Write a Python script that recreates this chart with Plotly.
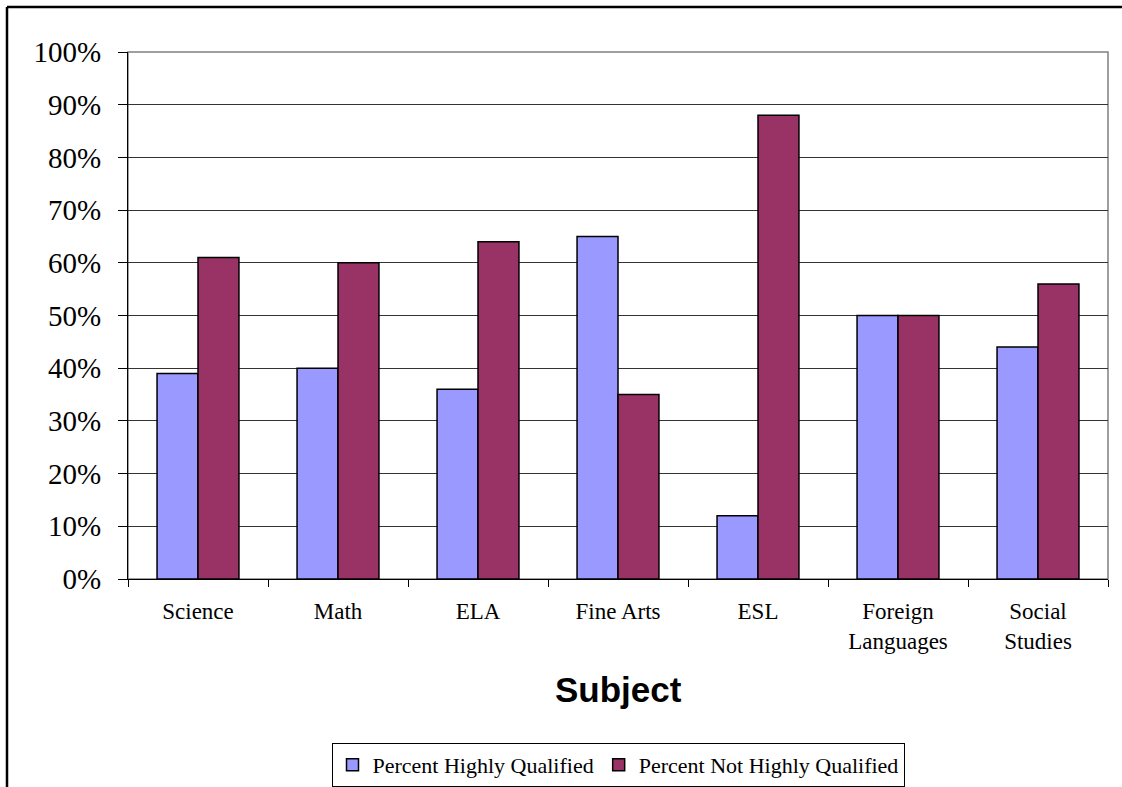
import plotly.graph_objects as go

categories = ["Science", "Math", "ELA", "Fine Arts", "ESL", "Foreign<br>Languages", "Social<br>Studies"]
highly_qualified = [0.39, 0.40, 0.36, 0.65, 0.12, 0.50, 0.44]
not_highly_qualified = [0.61, 0.60, 0.64, 0.35, 0.88, 0.50, 0.56]
series_names = ["Percent Highly Qualified", "Percent Not Highly Qualified"]
y_ticks = [i / 10 for i in range(11)]

W, H = 1122, 787
L, R, T, B = 128, 14, 52, 208
pw = W - L - R
ph = H - T - B

serif = "Liberation Serif"
sans = "Liberation Sans"

fig = go.Figure()
fig.add_trace(go.Bar(x=categories, y=highly_qualified, name=series_names[0],
                     marker=dict(color="#9999FF", line=dict(color="black", width=1.5))))
fig.add_trace(go.Bar(x=categories, y=not_highly_qualified, name=series_names[1],
                     marker=dict(color="#993366", line=dict(color="black", width=1.5))))

def px_x(p):
    return (p - L) / pw

def px_y(p):
    return (H - B - p) / ph

fig.update_layout(
    width=W, height=H,
    margin=dict(l=L, r=R, t=T, b=B, autoexpand=False),
    paper_bgcolor="white", plot_bgcolor="white",
    barmode="group", bargap=0.415, bargroupgap=0,
    showlegend=True,
    legend=dict(orientation="h", x=0.5, xanchor="center", y=px_y(743), yanchor="top",
                bordercolor="black", borderwidth=1, bgcolor="white",
                font=dict(family=serif, size=22, color="black"),
                itemwidth=30, tracegroupgap=0),
    xaxis=dict(type="category", tickson="boundaries", ticks="outside", ticklen=7,
               tickcolor="black", tickwidth=1, showline=True, linecolor="black", linewidth=1,
               showgrid=False, tickfont=dict(family=serif, size=23, color="black"),
               ticklabelstandoff=11),
    yaxis=dict(range=[0, 1], tickvals=y_ticks, tickformat=".0%", ticks="outside", ticklen=9,
               tickcolor="black", tickwidth=1, showline=True, linecolor="black", linewidth=1,
               showgrid=True, gridcolor="#333333", gridwidth=1, zeroline=False,
               tickfont=dict(family=serif, size=29, color="black"),
               ticklabelstandoff=11),
    shapes=[
        dict(type="rect", xref="paper", yref="paper", x0=0, x1=1, y0=0, y1=1,
             line=dict(color="#808080", width=1.5), layer="below"),
        dict(type="line", xref="paper", yref="paper", x0=px_x(7), x1=px_x(1122),
             y0=px_y(7), y1=px_y(7), line=dict(color="black", width=2.5)),
        dict(type="line", xref="paper", yref="paper", x0=px_x(7), x1=px_x(7),
             y0=px_y(7), y1=px_y(787), line=dict(color="black", width=2.5)),
    ],
    annotations=[
        dict(text="<b>Subject</b>", xref="paper", yref="paper", x=0.5, y=px_y(689),
             xanchor="center", yanchor="middle", showarrow=False,
             font=dict(family=sans, size=35, color="black")),
    ],
)

fig.write_html("out.html")
